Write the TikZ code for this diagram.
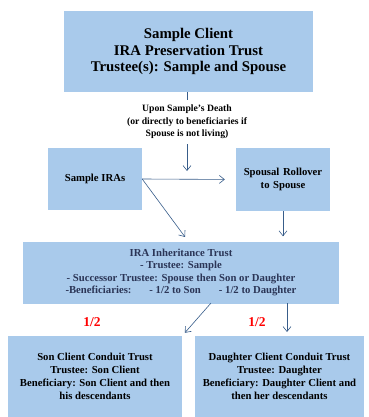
\documentclass[tikz,border=0pt]{standalone}
\usepackage{fontspec}
\setmainfont{Liberation Serif}
\usepackage{tikz}
\usetikzlibrary{arrows.meta,positioning,calc}
\definecolor{boxblue}{HTML}{A9CAEB}
\definecolor{arrblue}{HTML}{385D8A}
\definecolor{navytxt}{HTML}{2B3556}

\begin{document}
\begin{tikzpicture}[x=1pt,y=-1pt,font=\bfseries\fontsize{10.7}{13}\selectfont,box/.style={fill=boxblue,align=center,inner sep=0pt},arr/.style={-{Straight Barb[length=5pt,width=8pt]},draw=arrblue,semithick}]
\useasboundingbox[fill=white] (0,0) rectangle (368,417);
\node[box,minimum width=249pt,minimum height=81pt,font=\bfseries\fontsize{14.8}{16.5}\selectfont] (top) at (188.5,51.5) {Sample Client\\IRA Preservation Trust\\Trustee(s): Sample and Spouse};
\node[box,fill=white,minimum width=208pt,minimum height=44pt,font=\bfseries\fontsize{9.7}{12.5}\selectfont] (death) at (187,122) {Upon Sample's Death\\(or directly to beneficiaries if\\Spouse is not living)};
\node[box,minimum width=94pt,minimum height=62pt] (iras) at (95,179) {Sample IRAs};
\node[box,minimum width=94pt,minimum height=63pt,text width=90pt] (roll) at (283,179.5) {Spousal Rollover\\to Spouse};
\node[box,minimum width=316pt,minimum height=62pt,text=navytxt,font=\bfseries\fontsize{10.7}{12.6}\selectfont] (inh) at (181,272.5) {IRA Inheritance Trust\\- Trustee: Sample\\- Successor Trustee: Spouse then Son or Daughter\\-Beneficiaries:\hspace{18pt}- 1/2 to Son\hspace{18pt}- 1/2 to Daughter};
\node[box,minimum width=174pt,minimum height=81pt] (son) at (95,376.5) {Son Client Conduit Trust\\Trustee: Son Client\\Beneficiary: Son Client and then\\his descendants};
\node[box,minimum width=169pt,minimum height=81pt] (dau) at (279.5,376.5) {Daughter Client Conduit Trust\\Trustee: Daughter\\Beneficiary: Daughter Client and\\then her descendants};
\coordinate (fork) at (187,171);
\draw[draw=arrblue,semithick] (top.south -| death.north) -- (death.north);
\draw[arr] (death.south) -- (fork);
\draw[arr,shorten >=11pt] (iras.east) -- (roll.west);
\draw[arr,shorten >=5pt] (iras.east) -- (188,241);
\draw[arr,shorten >=5pt] (roll.south) -- (roll.south |- inh.north);
\draw[arr,shorten >=4pt] (211,303) -- (son.north east);
\draw[arr,shorten >=4pt] (287,303) -- (287,336);
\node[text=red,font=\bfseries\fontsize{13.5}{15}\selectfont] (halfson) at (92,322) {1/2};
\node[text=red,font=\bfseries\fontsize{13.5}{15}\selectfont] (halfdau) at (257,322) {1/2};
\end{tikzpicture}
\end{document}
